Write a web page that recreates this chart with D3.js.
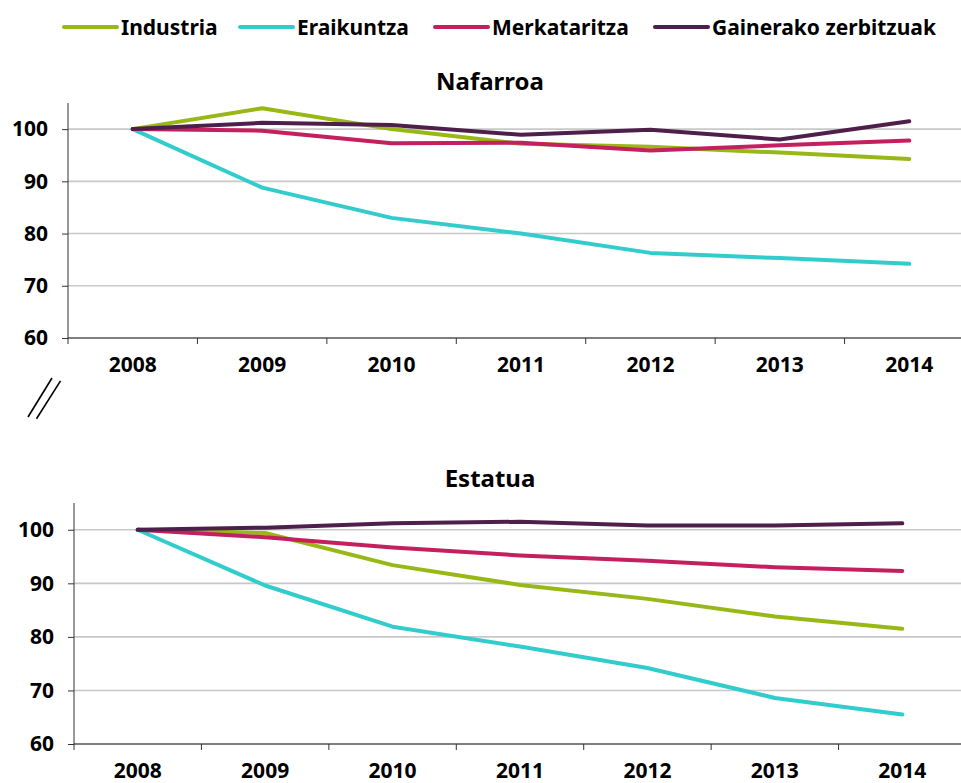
<!DOCTYPE html>
<html>
<head>
<meta charset="utf-8">
<script src="https://cdn.jsdelivr.net/npm/d3@7"></script>
<style>
  body { margin: 0; background: #fff; }
  text { font-family: "Noto Sans", sans-serif; font-weight: bold; fill: #000; }
</style>
</head>
<body>
<div id="chart"></div>
<script>

// data
var years = ["2008", "2009", "2010", "2011", "2012", "2013", "2014"],
    sectors = ["Industria", "Eraikuntza", "Merkataritza", "Gainerako zerbitzuak"],
    colors = ["#97b816", "#33cccc", "#c41f5e", "#4f1f4b"],
    yTicks = [60, 70, 80, 90, 100];

var nafarroaIndustria = [100, 104, 100, 97.2, 96.6, 95.5, 94.3],
    nafarroaEraikuntza = [100, 88.8, 83.0, 80.0, 76.3, 75.3, 74.2],
    nafarroaMerkataritza = [100, 99.7, 97.3, 97.4, 95.9, 96.9, 97.8],
    nafarroaGainerako = [100, 101.2, 100.8, 98.9, 99.9, 98.0, 101.5];

var estatuaIndustria = [100, 99.4, 93.4, 89.7, 87.1, 83.8, 81.5],
    estatuaEraikuntza = [100, 89.6, 81.9, 78.2, 74.2, 68.6, 65.5],
    estatuaMerkataritza = [100, 98.6, 96.7, 95.2, 94.2, 93.0, 92.3],
    estatuaGainerako = [100, 100.4, 101.2, 101.5, 100.8, 100.8, 101.2];

var svg = d3.select("#chart").append("svg")
    .attr("width", 961).attr("height", 783);

// legend
var legendX = [64, 240, 435, 655];
var legend = svg.append("g").selectAll("g").data(sectors).enter().append("g")
    .attr("transform", function(d, i) { return "translate(" + legendX[i] + ",27)"; });
legend.append("line").attr("x1", 0).attr("x2", 53).attr("y1", 0).attr("y2", 0)
    .attr("stroke", function(d, i) { return colors[i]; })
    .attr("stroke-width", 4).attr("stroke-linecap", "round");
legend.append("text").attr("x", 57).attr("y", 8).style("font-size", "21px")
    .text(function(d) { return d; });

drawPanel("Nafarroa", [nafarroaIndustria, nafarroaEraikuntza, nafarroaMerkataritza, nafarroaGainerako],
    {left: 68, right: 974, top: 103, bottom: 338, titleY: 90, labelY: 372});
drawPanel("Estatua", [estatuaIndustria, estatuaEraikuntza, estatuaMerkataritza, estatuaGainerako],
    {left: 74, right: 966, top: 503, bottom: 744, titleY: 487, labelY: 778});

// axis break mark
svg.append("g").selectAll("line").data([0, 8.5]).enter().append("line")
    .attr("x1", function(d) { return 28 + d; }).attr("y1", function(d) { return 417 + d / 5; })
    .attr("x2", function(d) { return 52 + d; }).attr("y2", function(d) { return 378 + d / 3; })
    .attr("stroke", "#000").attr("stroke-width", 1.6);

function drawPanel(title, series, box) {
    var x = d3.scaleBand().domain(years).range([box.left, box.right]);
    var y = d3.scaleLinear().domain([60, 105]).range([box.bottom, box.top]);
    var g = svg.append("g");

    g.append("text").attr("x", 490).attr("y", box.titleY)
        .attr("text-anchor", "middle").style("font-size", "24px").text(title);

    // gridlines
    g.selectAll(".grid").data(yTicks.slice(1)).enter().append("line")
        .attr("x1", box.left).attr("x2", 961)
        .attr("y1", function(d) { return y(d); }).attr("y2", function(d) { return y(d); })
        .attr("stroke", "#c8c8c8").attr("stroke-width", 1.6);

    // y axis
    var yAxis = g.append("g").attr("transform", "translate(" + box.left + ",0)")
        .call(d3.axisLeft(y).tickValues(yTicks).tickSize(6).tickPadding(14));
    yAxis.select(".domain").attr("stroke", "#333").attr("d", "M0," + box.bottom + "V" + box.top);
    yAxis.selectAll("line").attr("stroke", "#333");
    yAxis.selectAll("text").style("font-size", "21px").attr("fill", "#000");

    // x axis: ticks on band edges
    var xa = g.append("g");
    xa.append("line").attr("x1", box.left).attr("x2", 961)
        .attr("y1", box.bottom).attr("y2", box.bottom).attr("stroke", "#000").attr("stroke-width", 1.2);
    xa.selectAll(".tick").data(years).enter().append("line")
        .attr("x1", function(d) { return x(d); }).attr("x2", function(d) { return x(d); })
        .attr("y1", box.bottom).attr("y2", box.bottom + 6)
        .attr("stroke", "#333");
    xa.selectAll(".lbl").data(years).enter().append("text")
        .attr("x", function(d) { return x(d) + x.bandwidth() / 2; })
        .attr("y", box.labelY).attr("text-anchor", "middle")
        .style("font-size", "21px").text(function(d) { return d; });

    var line = d3.line()
        .x(function(d, i) { return x(years[i]) + x.bandwidth() / 2; })
        .y(function(d) { return y(d); });

    g.selectAll(".series").data(series).enter().append("path")
        .attr("d", line).attr("fill", "none")
        .attr("stroke", function(d, i) { return colors[i]; })
        .attr("stroke-width", 4).attr("stroke-linejoin", "round").attr("stroke-linecap", "round");
}

</script>
</body>
</html>
